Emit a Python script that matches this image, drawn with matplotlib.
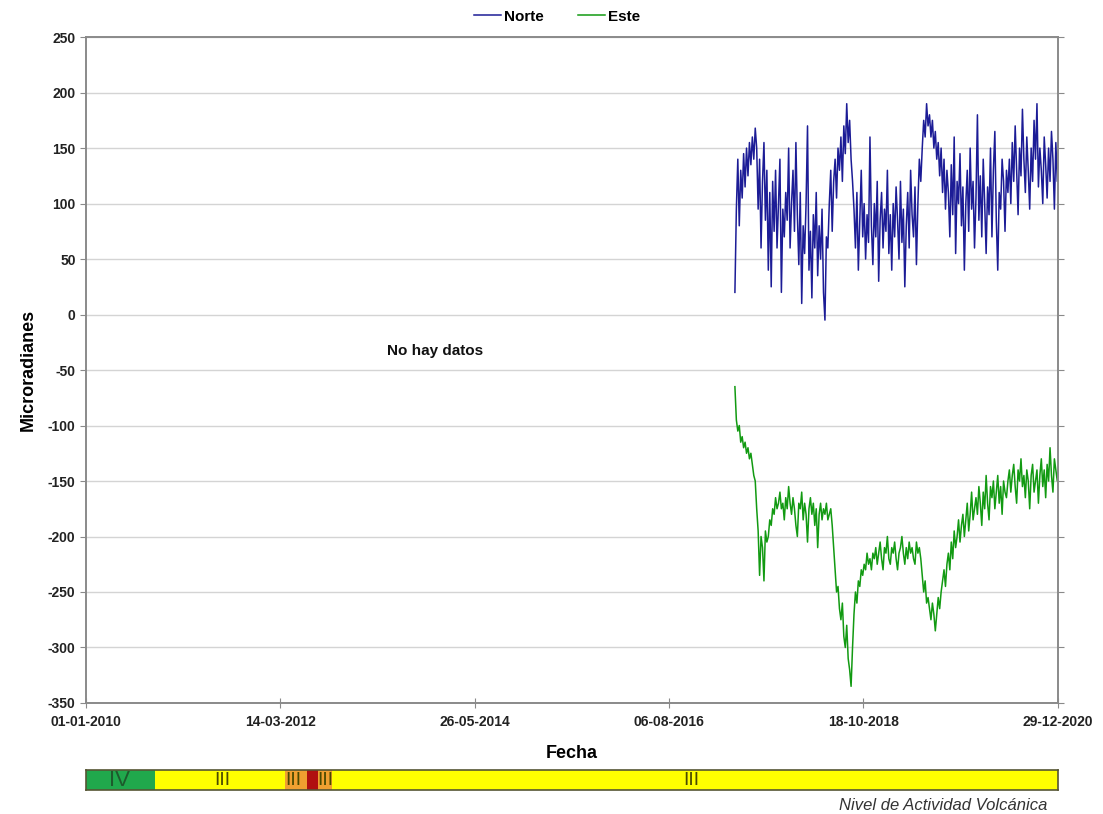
import matplotlib
matplotlib.use("Agg")
import matplotlib.pyplot as plt
import pandas as pd

plt.rcParams['font.family'] = ['Liberation Sans', 'DejaVu Sans']
plt.rcParams['axes.unicode_minus'] = False

# ---------------- data ----------------
series_start = "2017-05-05"
step = "6D"

norte = [20, 95, 140, 80, 130, 105, 145, 115, 150, 125, 155, 135, 160, 140, 168,
         150, 95, 140, 60, 120, 155, 85, 130, 40, 110, 25, 120,
         75, 130, 60, 100, 140, 20, 95, 70, 110, 85, 150, 60, 100, 130, 75, 155, 90, 45, 110,
         10, 80, 55, 100, 170, 40, 75, 15, 90, 60, 110, 35, 80, 50, 95, 20, -5, 70,
         60, 100, 130, 75, 120, 140, 105, 150, 130, 160, 120, 170, 145, 190, 155, 175, 140, 120,
         95, 60, 110, 40, 85, 130, 70, 100, 50, 90, 65, 160, 80, 45, 100, 70, 120, 30, 85, 110,
         60, 95, 75, 130, 55, 90, 40, 100, 70, 115, 85, 50, 120, 65, 95, 25, 80, 110, 60, 130,
         90, 70, 115, 45, 100, 140, 120,
         150, 175, 160, 190, 170, 180, 160, 175, 150, 165, 140, 155, 125, 150, 110, 140, 95, 130,
         110, 70, 135, 90, 160, 55, 120, 100, 145, 80, 115, 40, 100, 130, 75, 150, 95, 120, 60, 105,
         180, 85, 125, 70, 140, 100, 55, 115, 90, 150, 70, 130, 165, 85, 40, 110, 95, 140, 120, 75,
         130, 110,
         140, 100, 155, 120, 170, 130, 90, 150, 125, 185, 140, 110, 160, 130, 95, 150, 120, 175,
         140, 190, 115, 150, 130, 100, 160, 135, 105, 150, 120, 165, 140, 95, 155, 120, 145]

este = [-65, -95, -105, -100, -115, -110, -120, -115, -125, -120, -130, -125, -135,
        -145, -150, -175, -195, -235, -200, -210, -240, -195, -205,
        -200, -185, -190, -175, -180, -165, -175, -170, -160, -175, -170, -185, -165, -175, -155,
        -170, -180, -165, -175, -190, -200, -170, -175, -160, -185, -170, -180, -205, -175, -165,
        -180, -170, -190, -175, -210, -180, -170, -185, -175, -180, -170, -185, -180, -175, -190,
        -210, -230, -250, -245, -265, -275, -260, -290, -300, -280, -310, -320, -335, -300,
        -270, -250, -260, -240, -245, -230, -235, -225, -230, -215, -225, -220, -230, -215,
        -220, -210, -225, -215, -205, -220, -230, -210, -215, -200, -220, -225, -210, -215, -205,
        -220, -230, -215, -210, -200, -215, -225, -210, -220, -205, -215, -210, -220, -225, -205,
        -215, -210, -220,
        -235, -250, -240, -260, -255, -265, -275, -260, -270, -285, -270, -255, -265, -250,
        -240, -230, -245, -225, -215, -230, -205, -220, -195, -210, -200, -185, -205, -190, -180,
        -200, -185, -170, -195, -180, -160, -185, -175, -165,
        -180, -155, -170, -190, -160, -175, -145, -170, -185, -155, -165, -150, -175, -160, -145,
        -170, -155, -180, -150, -160, -165,
        -150, -140, -160, -145, -135, -155, -170, -140, -150, -130, -155, -145, -165, -140, -150,
        -175, -145, -135, -160, -150, -140, -170, -145, -130, -155, -140, -165, -135, -150, -120,
        -145, -160, -130, -140, -150, -135]

tick_dates = ["2010-01-01", "2012-03-14", "2014-05-26", "2016-08-06", "2018-10-18", "2020-12-29"]
tick_labels = ["01-01-2010", "14-03-2012", "26-05-2014", "06-08-2016", "18-10-2018", "29-12-2020"]

# volcanic activity level periods
level_start = ["2010-01-01", "2010-10-13", "2012-04-02", "2012-07-02", "2012-08-16", "2012-10-13"]
level_end   = ["2010-10-13", "2012-04-02", "2012-07-02", "2012-08-16", "2012-10-13", "2020-12-29"]
level_color = ["#20a84c", "#ffff00", "#f0a030", "#b01010", "#f0a030", "#ffff00"]
level_text = ["IV", "III", "III", "III", "III"]
level_text_date = ["2010-05-20", "2011-07-20", "2012-05-05", "2012-09-15", "2016-11-07"]

# ---------------- figure ----------------
fig = plt.figure(figsize=(11.03, 8.14), dpi=100)
ax = fig.add_axes([0.078, 0.1364, 0.881, 0.818])

d_n = pd.date_range(series_start, periods=len(norte), freq=step)
d_e = pd.date_range(series_start, periods=len(este), freq=step)
ax.plot(d_n, norte, color="#1c1c96", lw=1.1, label="Norte")
ax.plot(d_e, este, color="#129a12", lw=1.1, label="Este")

xt = pd.to_datetime(tick_dates)
ax.set_xlim(xt[0], xt[-1])
ax.set_ylim(-350, 250)
ax.set_yticks(range(-350, 251, 50))
ax.set_xticks(xt)
ax.set_xticklabels(tick_labels)
ax.grid(axis="y", color="#d4d4d4", lw=1)
ax.set_axisbelow(True)
for s in ax.spines.values():
    s.set_color("#8a8a8a")
    s.set_linewidth(1.4)
ax.tick_params(axis="x", direction="inout", length=7, color="#8a8a8a", pad=5)
ax.tick_params(axis="y", direction="out", length=4, color="#8a8a8a", right=True)
for lab in ax.get_xticklabels() + ax.get_yticklabels():
    lab.set_fontweight("bold")
    lab.set_fontsize(10)
    lab.set_color("#222222")

ax.set_ylabel("Microradianes", fontsize=13, fontweight="bold", labelpad=8)
ax.set_xlabel("Fecha", fontsize=13, fontweight="bold", labelpad=12)

ax.text(pd.Timestamp("2013-12-12"), -33, "No hay datos", fontsize=11, fontweight="bold",
        ha="center", va="center", color="#111111")

fig.legend(loc="upper center", bbox_to_anchor=(0.505, 1.005), ncol=2, frameon=False,
           handlelength=1.8, handletextpad=0.2, columnspacing=2.2,
           prop={"weight": "bold", "size": 11})

# activity bar
bax = fig.add_axes([0.078, 0.0295, 0.881, 0.0246])
for s0, s1, c in zip(level_start, level_end, level_color):
    a = pd.Timestamp(s0)
    b = pd.Timestamp(s1)
    bax.barh(0, b - a, left=a, height=1, color=c, edgecolor="none")
for t, dt in zip(level_text, level_text_date):
    bax.text(pd.Timestamp(dt), -0.05, t, ha="center", va="center",
             fontsize=16 if t == "IV" else 14,
             color="#1d5a2c" if t == "IV" else "#4a4a00",
             family=["Liberation Sans Narrow", "Liberation Sans", "DejaVu Sans"])
bax.set_xlim(xt[0], xt[-1])
bax.set_ylim(-0.5, 0.5)
bax.set_xticks([])
bax.set_yticks([])
for s in bax.spines.values():
    s.set_color("#555533")
    s.set_linewidth(1.2)

fig.text(0.950, 0.011, "Nivel de Actividad Volcánica", fontsize=12, style="italic",
         ha="right", va="center", color="#333333")

fig.savefig("out.png", dpi=100)
